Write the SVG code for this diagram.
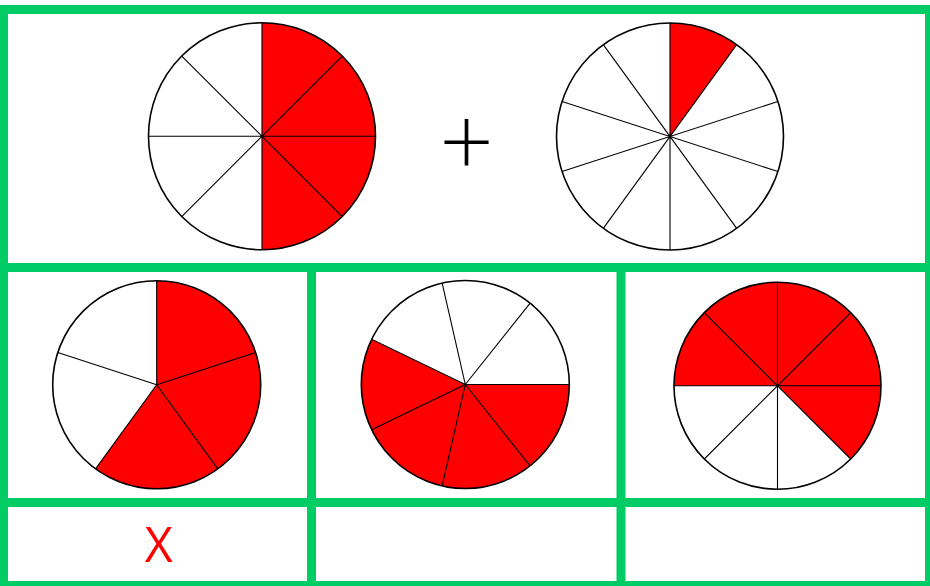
<svg xmlns="http://www.w3.org/2000/svg" width="930" height="586" viewBox="0 0 930 586">
<style>
.grid{fill:none;stroke:#00cc66;stroke-width:9}
.red{fill:#ff0000;stroke:none}
.rim{fill:none;stroke:#000;stroke-width:1.6}
.div{stroke:#000;stroke-width:1.1;fill:none}
.bg{fill:#fff;stroke:none}
</style>
<rect width="930" height="586" fill="#fff"/>
<g id="grid">
<rect class="grid" x="3.5" y="9.5" width="926" height="576"/>
<line class="grid" x1="0" y1="267.5" x2="930" y2="267.5"/>
<line class="grid" x1="0" y1="502.5" x2="930" y2="502.5"/>
<line class="grid" x1="311.5" y1="267.5" x2="311.5" y2="586"/>
<line class="grid" x1="621" y1="267.5" x2="621" y2="586"/>
</g>
<g id="circle-eighths-top">
<circle class="bg" cx="262" cy="136.3" r="113.5"/>
<path class="red" d="M262,136.3 L262,22.8 A113.5,113.5 0 0 1 262,249.8 Z"/>
<path class="div" d="M262,22.8 L262,249.8 M148.5,136.3 L375.5,136.3 M181.74,56.04 L342.26,216.56 M342.26,56.04 L181.74,216.56"/>
<circle class="rim" cx="262" cy="136.3" r="113.5"/>
</g>
<g id="plus">
<text x="466.5" y="174" font-family="Lato, Liberation Sans, sans-serif" font-weight="300" font-size="94" text-anchor="middle" fill="#000">+</text>
</g>
<g id="circle-tenths-top">
<circle class="bg" cx="670" cy="136.5" r="113.5"/>
<path class="red" d="M670,136.5 L670,23 A113.5,113.5 0 0 1 736.71,44.68 Z"/>
<path class="div" d="M670,23 L670,250 M736.71,44.68 L603.29,228.32 M777.95,101.43 L562.05,171.57 M777.95,171.57 L562.05,101.43 M736.71,228.32 L603.29,44.68"/>
<circle class="rim" cx="670" cy="136.5" r="113.5"/>
</g>
<g id="circle-fifths">
<circle class="bg" cx="156.7" cy="384.7" r="104"/>
<path class="red" d="M156.7,384.7 L156.7,280.7 A104,104 0 1 1 95.57,468.84 Z"/>
<path class="div" d="M156.7,384.7 L156.7,280.7 M156.7,384.7 L255.61,352.56 M156.7,384.7 L217.83,468.84 M156.7,384.7 L95.57,468.84 M156.7,384.7 L57.79,352.56"/>
<circle class="rim" cx="156.7" cy="384.7" r="104"/>
</g>
<g id="circle-sevenths">
<circle class="bg" cx="465.3" cy="384.5" r="104"/>
<path class="red" d="M465.3,384.5 L569.3,384.5 A104,104 0 1 1 371.6,339.37 Z"/>
<path class="div" d="M465.3,384.5 L569.3,384.5 M465.3,384.5 L530.14,465.81 M465.3,384.5 L442.16,485.89 M465.3,384.5 L371.6,429.63 M465.3,384.5 L371.6,339.37 M465.3,384.5 L442.16,283.11 M465.3,384.5 L530.14,303.19"/>
<circle class="rim" cx="465.3" cy="384.5" r="104"/>
</g>
<g id="circle-eighths-bottom">
<circle class="bg" cx="777.5" cy="385.8" r="103.5"/>
<path class="red" d="M777.5,385.8 L674,385.8 A103.5,103.5 0 1 1 850.69,458.99 Z"/>
<path class="div" d="M777.5,282.3 L777.5,489.3 M674,385.8 L881,385.8 M704.31,312.61 L850.69,458.99 M850.69,312.61 L704.31,458.99"/>
<circle class="rim" cx="777.5" cy="385.8" r="103.5"/>
</g>
<g id="mark-x">
<text x="158.8" y="562.3" font-family="Open Sans, Noto Sans, sans-serif" font-size="48.5" text-anchor="middle" fill="#ff0000">X</text>
</g>
</svg>
